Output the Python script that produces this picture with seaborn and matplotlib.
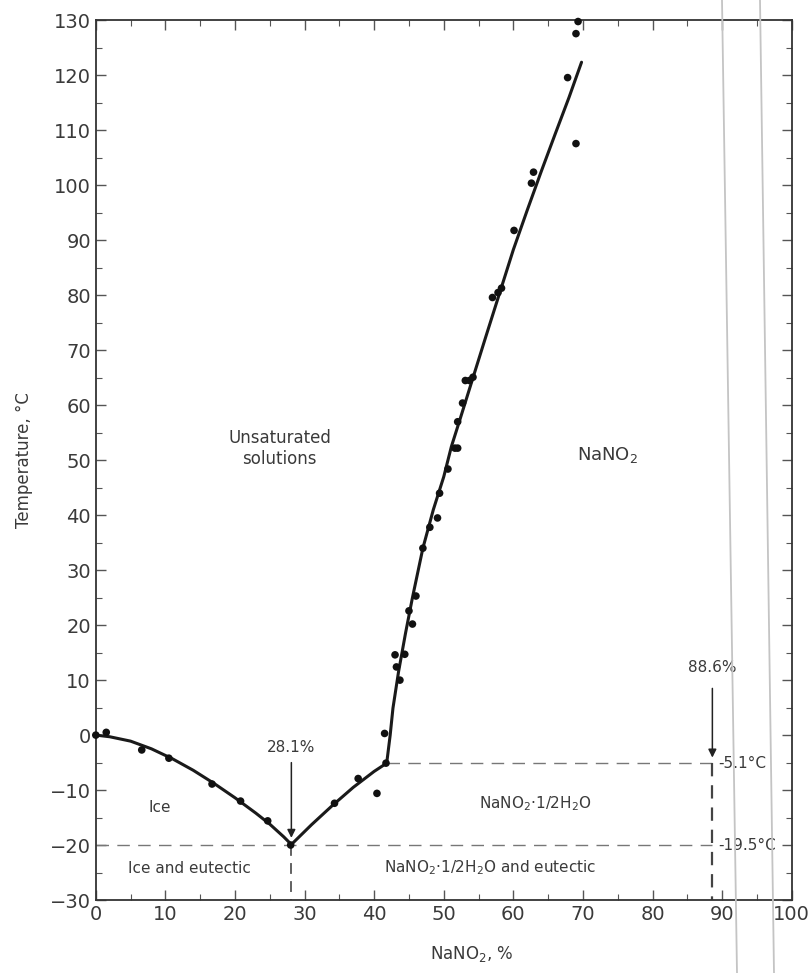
import matplotlib
matplotlib.use('Agg')
import matplotlib.pyplot as plt
import pandas as pd
import seaborn as sns
from matplotlib.lines import Line2D
from matplotlib.ticker import MultipleLocator

# measured points (NaNO2 %, temperature C)
pts_x = [0, 1.5, 6.6, 10.5, 16.7, 20.8, 24.7, 28.0,
         34.3, 37.7, 40.4, 41.5, 41.7,
         43.2, 43.0, 44.4, 43.7, 45.5, 45.0, 46.0, 47.0, 48.0, 49.1, 49.4,
         50.6, 51.6, 52.0, 52.0, 52.7, 53.1, 53.7, 54.2,
         57.0, 57.8, 58.3, 60.1, 62.6, 62.9, 67.8, 69.0, 69.0, 69.3]
pts_y = [0, 0.5, -2.7, -4.2, -8.9, -12.0, -15.6, -20.0,
         -12.4, -7.9, -10.6, 0.3, -5.1,
         12.4, 14.6, 14.7, 10.0, 20.2, 22.6, 25.3, 34.0, 37.8, 39.5, 44.0,
         48.4, 52.2, 52.2, 57.0, 60.4, 64.5, 64.5, 65.1,
         79.6, 80.5, 81.3, 91.8, 100.4, 102.4, 119.6, 107.6, 127.6, 129.8]

# liquidus curves
ice_x = [0, 2, 5, 8, 11, 14, 17, 20, 23, 25, 27, 28.1]
ice_y = [0, -0.3, -1.1, -2.5, -4.3, -6.4, -8.8, -11.4, -14.2, -16.2, -18.5, -19.9]
hyd_x = [28.1, 31, 34, 37, 40, 41.8]
hyd_y = [-19.9, -16.3, -12.8, -9.5, -6.6, -5.1]
salt_x = [41.8, 42.3, 42.7, 43.5, 44.5, 45.5, 47, 48.5, 50, 51.1, 52.3,
          54, 56, 58, 60, 62, 64, 66, 68, 69.8]
salt_y = [-5.1, 0, 4.9, 11.5, 18.5, 25, 34, 41, 47, 52.5, 57.3,
          64.2, 72.3, 80.3, 88.3, 95.5, 102.5, 109.3, 116, 122.4]

eutectic_x, eutectic_t = 28.1, -20.0
peritectic_x, peritectic_t = 88.6, -5.1
hydrate_start = 41.8

sns.set_style('ticks')
plt.rcParams['font.family'] = ['DejaVu Sans']
txt = '#3a3a3a'

fig = plt.figure(figsize=(8.12, 9.73), dpi=100)
ax = fig.add_axes([0.118, 0.075, 0.857, 0.904])

for cx, cy in [(ice_x, ice_y), (hyd_x, hyd_y), (salt_x, salt_y)]:
    d = pd.DataFrame({'x': cx, 'y': cy})
    sns.lineplot(data=d, x='x', y='y', sort=False, estimator=None,
                 color='#1a1a1a', lw=2.2, ax=ax)

sns.scatterplot(x=pts_x, y=pts_y, color='#111111', s=30, edgecolor='none',
                ax=ax, zorder=5, clip_on=False)

# dashed boundary lines
dash = dict(color='#777777', lw=1.0, dashes=(9, 6))
ax.plot([0, peritectic_x], [eutectic_t, eutectic_t], **dash)
ax.plot([hydrate_start, peritectic_x], [peritectic_t, peritectic_t], **dash)
ax.plot([eutectic_x, eutectic_x], [eutectic_t, -30], color='#555555', lw=1.3, dashes=(6, 4))
ax.plot([peritectic_x, peritectic_x], [peritectic_t, -30], color='#444444', lw=1.6, dashes=(6, 4))

# arrows
ax.annotate('', xy=(eutectic_x, -19.2), xytext=(eutectic_x, -4.5),
            arrowprops=dict(arrowstyle='-|>', color='#222222', lw=1.1, mutation_scale=12))
ax.annotate('', xy=(peritectic_x, -4.6), xytext=(peritectic_x, 9),
            arrowprops=dict(arrowstyle='-|>', color='#222222', lw=1.1, mutation_scale=12))

ax.text(eutectic_x, -2.2, '28.1%', ha='center', va='center', fontsize=11, color=txt)
ax.text(peritectic_x, 12.3, '88.6%', ha='center', va='center', fontsize=11, color=txt)
ax.text(89.4, peritectic_t, '-5.1°C', ha='left', va='center', fontsize=11, color=txt)
ax.text(89.4, eutectic_t, '-19.5°C', ha='left', va='center', fontsize=11, color=txt)

ax.text(26.4, 52.2, 'Unsaturated\nsolutions', ha='center', va='center',
        fontsize=12, color=txt, linespacing=1.2)
ax.text(73.6, 50.9, 'NaNO$_2$', ha='center', va='center', fontsize=13, color=txt)
ax.text(9.2, -13.1, 'Ice', ha='center', va='center', fontsize=11, color=txt)
ax.text(13.5, -24.2, 'Ice and eutectic', ha='center', va='center', fontsize=11, color=txt)
ax.text(63.1, -12.4, 'NaNO$_2$·1/2H$_2$O', ha='center', va='center', fontsize=11, color=txt)
ax.text(56.6, -24.2, 'NaNO$_2$·1/2H$_2$O and eutectic', ha='center', va='center',
        fontsize=11, color=txt)

ax.set_xlim(0, 100)
ax.set_ylim(-30, 130)
ax.xaxis.set_major_locator(MultipleLocator(10))
ax.xaxis.set_minor_locator(MultipleLocator(5))
ax.yaxis.set_major_locator(MultipleLocator(10))
ax.yaxis.set_minor_locator(MultipleLocator(5))
ax.tick_params(which='both', direction='in', top=True, right=True,
               colors='#555555', labelcolor=txt, labelsize=14)
ax.tick_params(which='major', length=7, width=1)
ax.tick_params(which='minor', length=4, width=0.8)
for s in ax.spines.values():
    s.set_color('#333333')
    s.set_linewidth(1.3)

ax.set_xlabel('NaNO$_2$, %', fontsize=12, color=txt)
ax.set_ylabel('Temperature, °C', fontsize=12, color=txt)
ax.xaxis.set_label_coords(0.54, -0.05)
ax.yaxis.set_label_coords(-0.09, 0.5)

# faint fold lines of the scanned page
fig.add_artist(Line2D([722 / 812, 737 / 812], [1, 0], transform=fig.transFigure,
                      color='#c4c4c4', lw=1.3))
fig.add_artist(Line2D([760 / 812, 774 / 812], [1, 0], transform=fig.transFigure,
                      color='#c4c4c4', lw=1.3))

fig.savefig('out.png', dpi=100)
